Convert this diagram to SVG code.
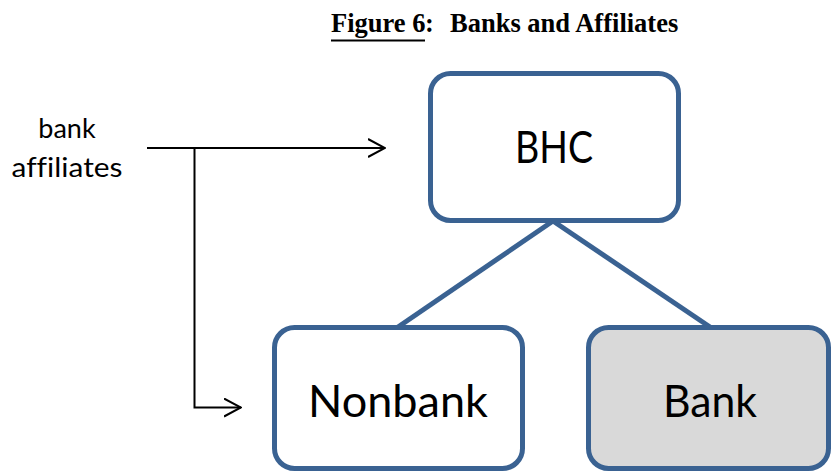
<svg xmlns="http://www.w3.org/2000/svg" width="831" height="472" viewBox="0 0 831 472">
<style>
.box{stroke:#3A6292;stroke-width:5;}
.lbl{font-family:Lato,"Open Sans",sans-serif;font-size:44px;fill:#000;text-anchor:middle;font-variant-ligatures:none;}
.side{font-family:Lato,"Open Sans",sans-serif;font-size:27px;fill:#000;text-anchor:middle;font-variant-ligatures:none;}
.title{font-family:"Liberation Serif","Times New Roman",serif;font-weight:bold;font-size:26.5px;fill:#000;}
.conn{stroke:#000;stroke-width:2;fill:none;}
.tree{stroke:#3A6292;stroke-width:5;fill:none;}
</style>
<defs>
<marker id="open" viewBox="0 0 18 20" refX="17" refY="10" markerWidth="18" markerHeight="20" markerUnits="userSpaceOnUse" orient="auto">
<path d="M0,1 L17,10 L0,19" fill="none" stroke="#000" stroke-width="2"/>
</marker>
</defs>
<rect width="831" height="472" fill="#fff"/>
<g id="title">
<text class="title" x="331" y="32">Figure 6</text>
<text class="title" x="425" y="32">:</text>
<text class="title" x="450" y="32">Banks and Affiliates</text>
<line x1="331" y1="40.5" x2="425" y2="40.5" stroke="#000" stroke-width="2"/>
</g>
<g id="connectors">
<line class="tree" x1="553" y1="221" x2="398" y2="327"/>
<line class="tree" x1="553" y1="221" x2="710" y2="327"/>
<path class="conn" d="M147,148 L385,148" marker-end="url(#open)"/>
<path class="conn" d="M194.5,148 L194.5,407.5 L241,407.5" marker-end="url(#open)"/>
</g>
<g id="bhc">
<rect class="box" x="430.5" y="73.5" width="248" height="147" rx="20" fill="#fff"/>
<text class="lbl" x="554" y="163" textLength="78" lengthAdjust="spacingAndGlyphs">BHC</text>
</g>
<g id="nonbank">
<rect class="box" x="274.5" y="327.5" width="248" height="141" rx="20" fill="#fff"/>
<text class="lbl" x="398" y="417" textLength="180" lengthAdjust="spacingAndGlyphs">Nonbank</text>
</g>
<g id="bank">
<rect class="box" x="588.5" y="327.5" width="240" height="141" rx="20" fill="#D9D9D9"/>
<text class="lbl" x="710" y="417" textLength="94" lengthAdjust="spacingAndGlyphs">Bank</text>
</g>
<g id="side-label">
<text class="side" x="67" y="138">bank</text>
<text class="side" x="67" y="177" textLength="111" lengthAdjust="spacingAndGlyphs">affiliates</text>
</g>
</svg>
